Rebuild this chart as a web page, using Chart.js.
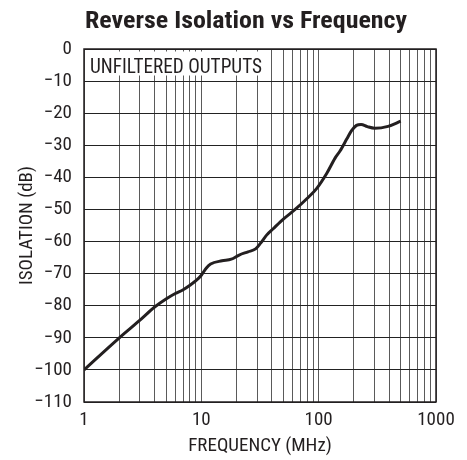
<!DOCTYPE html>
<html><head><meta charset="utf-8">
<script src="https://cdn.jsdelivr.net/npm/chart.js@4.4.1/dist/chart.umd.min.js"></script>
<style>html,body{margin:0;padding:0;background:#fff;}canvas{display:block;}</style>
</head><body>
<canvas id="c" width="467" height="460"></canvas>
<script>
// ---- data ----
const frequencyMHz = [1,2,3,4,5,6,7,8,9,10,11,12,15,18,21,25,29,32,36,41,50,63,80,96,117,138,152,174,190,210,230,260,300,390,500];
const isolationDb  = [-100,-90,-84.5,-80.4,-77.9,-76.2,-75,-73.6,-72.2,-70.5,-68.3,-67,-66,-65.5,-64.2,-63.2,-62.3,-60.5,-58,-56,-53,-50,-46.5,-43.5,-38.8,-34,-31.8,-28,-25.5,-23.8,-23.5,-24.2,-24.7,-24.1,-22.5];
const xGridTicks = [1,2,3,4,5,6,7,8,9,10,20,30,40,50,60,70,80,90,100,200,300,400,500,600,700,800,900,1000];
const xTickLabels = ['1','10','100','1000'];
const yTickValues = [0,-10,-20,-30,-40,-50,-60,-70,-80,-90,-100,-110];
const chartTitle = 'Reverse Isolation vs Frequency';
const xAxisTitle = 'FREQUENCY (MHz)';
const yAxisTitle = 'ISOLATION (dB)';
const noteText = 'UNFILTERED OUTPUTS';

const FONT = "'Roboto Condensed','Liberation Sans',sans-serif";
const INK = '#231f20';
Chart.defaults.font.family = FONT;
Chart.defaults.color = INK;

function fitText(ctx, text, x, y, targetW, align) {
  const w = ctx.measureText(text).width;
  ctx.save();
  ctx.translate(x, y);
  ctx.scale(targetW / w, 1);
  ctx.textAlign = align;
  ctx.fillText(text, 0, 0);
  ctx.restore();
}

const frame = {
  id: 'frame',
  afterDraw(chart) {
    const ctx = chart.ctx, a = chart.chartArea;
    ctx.save();
    // note box
    ctx.fillStyle = '#fff';
    ctx.fillRect(a.left + 1.5, a.top + 2.5, 180, 24);
    ctx.fillStyle = INK;
    ctx.font = "20px " + FONT;
    ctx.textBaseline = 'alphabetic';
    fitText(ctx, noteText, a.left + 6, a.top + 24, 172, 'left');
    // border
    ctx.strokeStyle = INK;
    ctx.lineWidth = 1.5;
    ctx.strokeRect(a.left, a.top, a.right - a.left, a.bottom - a.top);
    // title
    ctx.font = "bold 24px " + FONT;
    fitText(ctx, chartTitle, 246, 28, 322, 'center');
    ctx.restore();
  }
};

new Chart(document.getElementById('c'), {
  type: 'line',
  data: {
    datasets: [{
      data: frequencyMHz.map((f, i) => ({x: f, y: isolationDb[i]})),
      borderColor: INK,
      borderWidth: 3,
      pointRadius: 0,
      cubicInterpolationMode: 'monotone',
      fill: false
    }]
  },
  options: {
    responsive: false,
    devicePixelRatio: 1,
    animation: false,
    layout: {padding: {top: 49, right: 31, left: 0, bottom: 0}},
    plugins: {legend: {display: false}, title: {display: false}, tooltip: {enabled: false}},
    scales: {
      x: {
        type: 'logarithmic',
        min: 1, max: 1000,
        afterBuildTicks(s) { s.ticks = xGridTicks.map(v => ({value: v})); },
        afterFit(s) { s.height = 58; },
        ticks: {
          autoSkip: false, maxRotation: 0, padding: 7,
          font: {size: 19}, color: INK,
          callback: (v) => { const i = [1,10,100,1000].indexOf(v); return i >= 0 ? xTickLabels[i] : ''; }
        },
        grid: {color: '#5a5a5a', lineWidth: 1, drawTicks: false},
        border: {display: false},
        title: {display: true, text: xAxisTitle, font: {size: 19}, color: INK, padding: {top: 0, bottom: 2}}
      },
      y: {
        min: -110, max: 0,
        afterBuildTicks(s) { s.ticks = yTickValues.map(v => ({value: v})); },
        afterFit(s) { s.width = 84; },
        ticks: {
          padding: 12, font: {size: 19}, color: INK,
          callback: (v) => v === 0 ? '0' : '\u2212' + Math.abs(v)
        },
        grid: {color: '#222', lineWidth: 1, drawTicks: false},
        border: {display: false},
        title: {display: true, text: yAxisTitle, font: {size: 19}, color: INK, padding: {top: 16, bottom: 0}}
      }
    }
  },
  plugins: [frame]
});
</script>
</body></html>
